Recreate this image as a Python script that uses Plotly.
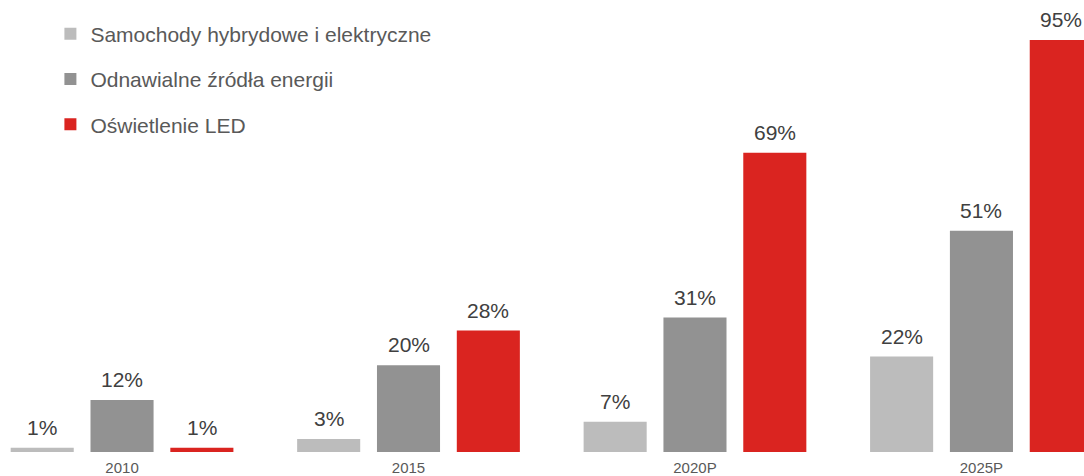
import plotly.graph_objects as go

categories = ["2010", "2015", "2020P", "2025P"]
series_names = ["Samochody hybrydowe i elektryczne", "Odnawialne źródła energii", "Oświetlenie LED"]
hybrid = [1, 3, 7, 22]
renewable = [12, 20, 31, 51]
led = [1, 28, 69, 95]
colors = ["#BCBCBC", "#929292", "#DA2420"]

series_values = [hybrid, renewable, led]

BARGAP = 0.164
BARGROUPGAP = 0.21
FONT = "Liberation Sans, Arial, sans-serif"

fig = go.Figure()
for i, (name, vals, col) in enumerate(zip(series_names, series_values, colors)):
    fig.add_trace(go.Bar(
        name=name, x=list(range(len(categories))), y=vals,
        marker=dict(color=col, line=dict(width=0)),
        legendgroup=f"g{i}",
        hoverinfo="skip",
    ))

# value labels above bars
n = len(series_values)
slot = (1 - BARGAP) / n
annotations = []
for i, vals in enumerate(series_values):
    off = (i - (n - 1) / 2) * slot
    for j, v in enumerate(vals):
        annotations.append(dict(
            x=j + off, y=v, xref="x", yref="y", text=f"{v}%",
            showarrow=False, yanchor="bottom", xanchor="center", yshift=7,
            font=dict(family=FONT, size=21, color="#404040"),
        ))

fig.update_layout(
    width=1084, height=476,
    margin=dict(l=0, r=0, t=0, b=24),
    paper_bgcolor="white", plot_bgcolor="white",
    barmode="group", bargap=BARGAP, bargroupgap=BARGROUPGAP,
    showlegend=True,
    legend=dict(
        x=0.0465, y=0.97, xanchor="left", yanchor="top",
        orientation="v", traceorder="grouped",
        font=dict(family=FONT, size=21, color="#595959"),
        tracegroupgap=15, itemwidth=30,
        bgcolor="rgba(0,0,0,0)",
    ),
    annotations=annotations,
    xaxis=dict(
        range=[-0.426, 3.358],
        tickmode="array", tickvals=list(range(len(categories))), ticktext=categories,
        showgrid=False, zeroline=False, showline=False, ticks="",
        ticklabelstandoff=5,
        tickfont=dict(family=FONT, size=15, color="#595959"),
        fixedrange=True,
    ),
    yaxis=dict(range=[0, 104.2], visible=False, showgrid=False, zeroline=False, fixedrange=True),
)

fig.write_html(
    "out.html",
    config={"displayModeBar": False, "staticPlot": True},
    post_script="document.body.style.margin='0';document.body.style.overflow='hidden';",
)
